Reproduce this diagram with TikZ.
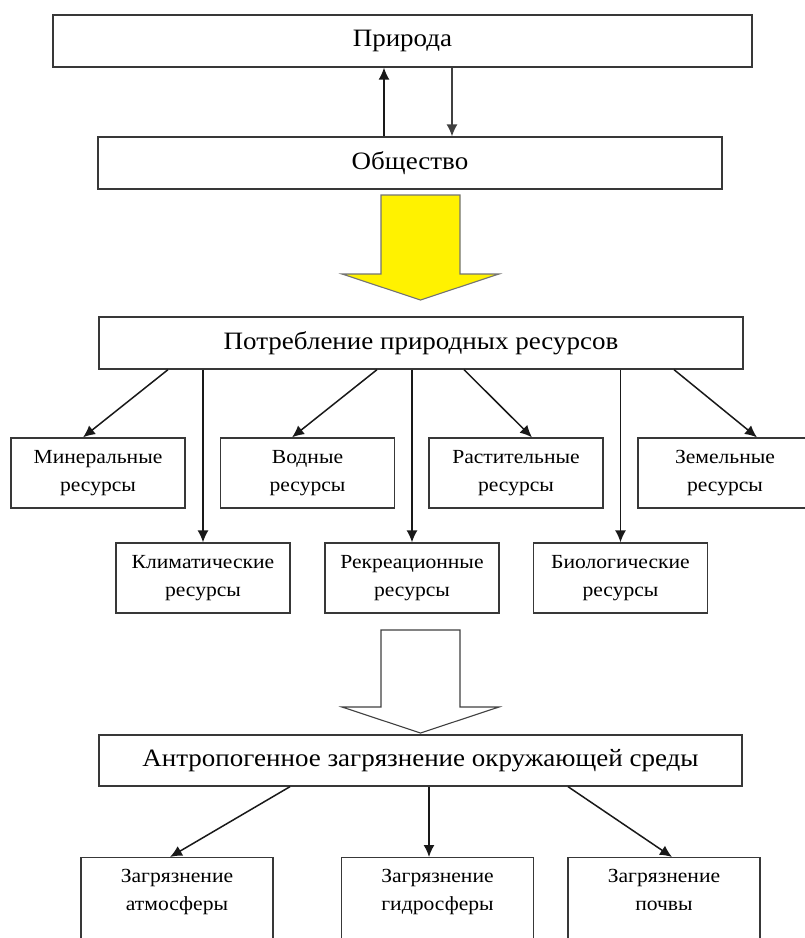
\documentclass[tikz,border=0pt]{standalone}
\usepackage{fontspec}
\setmainfont[FakeStretch=1.08]{Liberation Serif}
\usetikzlibrary{arrows.meta}
\begin{document}
\begin{tikzpicture}[x=1pt,y=-1pt,
 box/.style={draw=black!78, line width=1.3pt, inner sep=0pt, align=center},
 big/.style={font=\fontsize{25}{28}\selectfont},
 small/.style={font=\fontsize{20}{28}\selectfont},
 rbox/.style={box,small,minimum width=174pt,minimum height=70pt},
 bbox/.style={box,minimum width=192pt,minimum height=110pt,anchor=north},
 lbl/.style={small,align=center,anchor=north,inner ysep=12pt,inner xsep=0pt},
 arr/.style={-{Latex[length=12pt,width=11pt]}, line width=1.5pt, draw=black!90},
 bigarrow/.style={line width=1.1pt},
]
\useasboundingbox (0,0) rectangle (805,938);
\clip (0,0) rectangle (805,938);

\node[box,big,minimum width=699pt,minimum height=52pt] (prir) at (402.5,41) {Природа};
\node[box,big,minimum width=624pt,minimum height=52pt] (obsh) at (410,163) {Общество};
\node[box,big,minimum width=644pt,minimum height=52pt] (potr) at (421,343) {Потребление природных ресурсов};

\node[rbox] (mine) at (98,473) {Минеральные\\ресурсы};
\node[rbox] (vodn) at (307.5,473) {Водные\\ресурсы};
\node[rbox] (rast) at (516,473) {Растительные\\ресурсы};
\node[rbox] (zeml) at (725,473) {Земельные\\ресурсы};
\node[rbox] (klim) at (203,578) {Климатические\\ресурсы};
\node[rbox] (rekr) at (412,578) {Рекреационные\\ресурсы};
\node[rbox] (biol) at (620.5,578) {Биологические\\ресурсы};

\node[box,big,minimum width=643pt,minimum height=51pt] (antr) at (420.5,760.5) {Антропогенное загрязнение окружающей среды};

\node[bbox,label={[lbl]north:Загрязнение\\атмосферы}] (atmo) at (177,857) {};
\node[bbox,label={[lbl]north:Загрязнение\\гидросферы}] (gidr) at (437.5,857) {};
\node[bbox,label={[lbl]north:Загрязнение\\почвы}] (pochv) at (664,857) {};

% top arrows
\draw[arr] (obsh.north -| 384,0) -- (prir.south -| 384,0);
\draw[arr, line width=1.3pt, draw=black!75] (prir.south -| 452,0) -- (obsh.north -| 452,0);

% yellow arrow
\draw[bigarrow, draw=black!55, fill=yellow] (381,195) -- (460,195) -- (460,274) -- (499,274) -- (420.5,300) -- (342,274) -- (381,274) -- cycle;

% resource arrows
\draw[arr] (potr.south -| 168,0) -- (mine.north -| 83,0);
\draw[arr] (potr.south -| klim.north) -- (klim.north);
\draw[arr] (potr.south -| 377,0) -- (vodn.north -| 292,0);
\draw[arr] (potr.south -| rekr.north) -- (rekr.north);
\draw[arr] (potr.south -| 464,0) -- (rast.north -| 532,0);
\draw[arr] (potr.south -| biol.north) -- (biol.north);
\draw[arr] (potr.south -| 674,0) -- (zeml.north -| 757,0);

% white arrow
\draw[bigarrow, draw=black!75, fill=white] (381,630) -- (460,630) -- (460,707) -- (499,707) -- (420.5,733) -- (342,707) -- (381,707) -- cycle;

% pollution arrows
\draw[arr] (antr.south -| 290,0) -- (atmo.north -| 170,0);
\draw[arr] (antr.south -| 429,0) -- (gidr.north -| 429,0);
\draw[arr] (antr.south -| 568,0) -- (pochv.north -| 672,0);
\end{tikzpicture}
\end{document}
